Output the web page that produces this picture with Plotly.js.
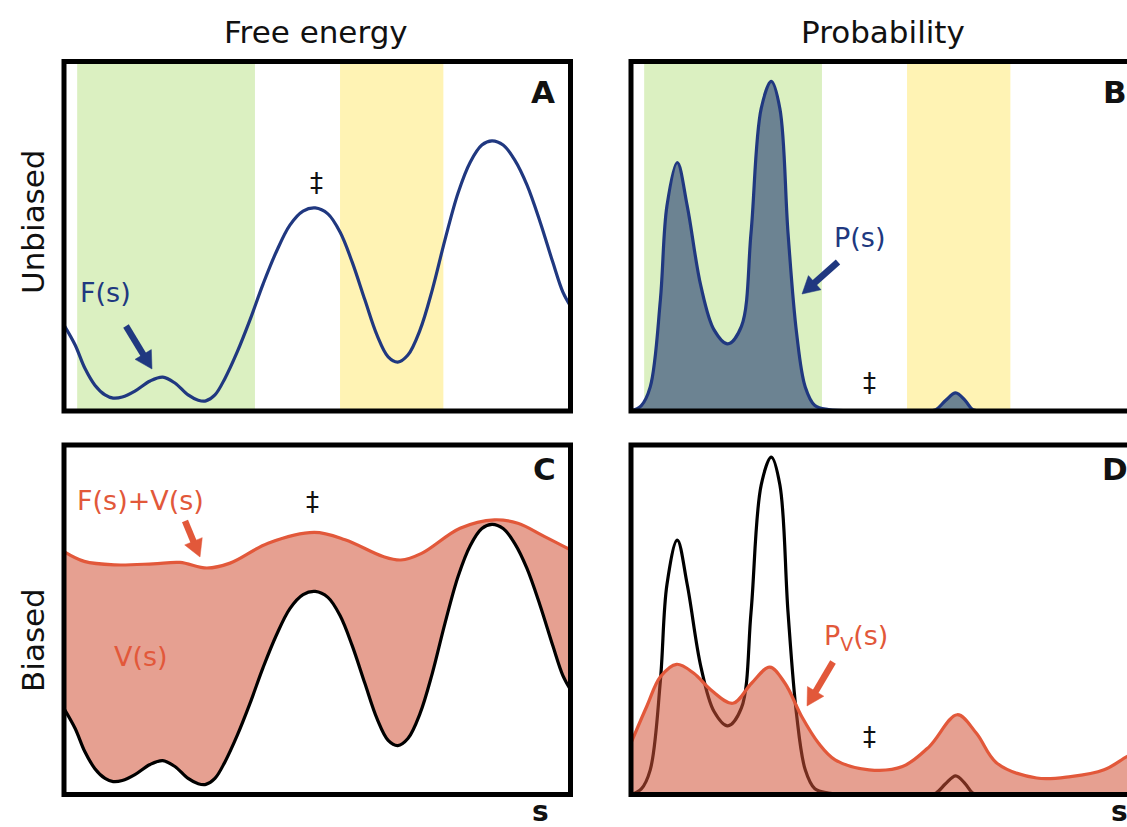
<!DOCTYPE html>
<html>
<head>
<meta charset="utf-8">
<script src="https://cdn.plot.ly/plotly-3.0.1.min.js"></script>
<style>
html,body{margin:0;padding:0;overflow:hidden;background:#fff;}
#chart{width:1145px;height:827px;}
</style>
</head>
<body>
<div id="chart"></div>
<script>
// ---- data (s in panel units 0..1, values as fraction of panel height) ----
const sF = [0, 0.022, 0.041, 0.061, 0.081, 0.097, 0.115, 0.140, 0.170, 0.195, 0.219, 0.245, 0.265, 0.280, 0.298, 0.318, 0.342, 0.367, 0.393, 0.419, 0.446, 0.472, 0.496, 0.521, 0.545, 0.569, 0.594, 0.618, 0.640, 0.659, 0.679, 0.703, 0.727, 0.752, 0.778, 0.802, 0.825, 0.845, 0.867, 0.890, 0.914, 0.940, 0.965, 0.985, 1.0];
const F  = [0.246, 0.189, 0.123, 0.074, 0.046, 0.037, 0.040, 0.057, 0.086, 0.097, 0.080, 0.046, 0.031, 0.029, 0.046, 0.094, 0.169, 0.260, 0.363, 0.455, 0.532, 0.572, 0.581, 0.564, 0.512, 0.426, 0.318, 0.217, 0.155, 0.140, 0.160, 0.232, 0.346, 0.489, 0.624, 0.712, 0.761, 0.773, 0.761, 0.718, 0.647, 0.541, 0.426, 0.340, 0.300];

const sFV = [0, 0.04, 0.1, 0.176, 0.229, 0.282, 0.328, 0.403, 0.494, 0.555, 0.63, 0.665, 0.706, 0.782, 0.85, 0.896, 0.949, 1.0];
const FV  = [0.695, 0.667, 0.657, 0.66, 0.664, 0.648, 0.662, 0.719, 0.75, 0.729, 0.681, 0.671, 0.69, 0.762, 0.786, 0.776, 0.738, 0.70];

const sP = [0, 0.02, 0.038, 0.058, 0.071, 0.0914, 0.111, 0.138, 0.164, 0.191, 0.218, 0.237, 0.257, 0.277, 0.294, 0.31, 0.327, 0.344, 0.363, 0.39, 0.45, 0.58, 0.602, 0.621, 0.641, 0.66, 0.675, 0.7, 0.85, 1.0];
const P  = [0, 0.015, 0.069, 0.318, 0.587, 0.711, 0.587, 0.357, 0.232, 0.192, 0.242, 0.51, 0.865, 0.943, 0.865, 0.51, 0.222, 0.069, 0.016, 0.004, 0, 0, 0.004, 0.03, 0.052, 0.03, 0.004, 0, 0, 0];

const sPv = [0, 0.031, 0.058, 0.09, 0.124, 0.158, 0.201, 0.238, 0.274, 0.304, 0.337, 0.37, 0.403, 0.47, 0.536, 0.589, 0.644, 0.682, 0.722, 0.801, 0.868, 0.934, 0.979, 1.0];
const Pv  = [0.144, 0.246, 0.329, 0.364, 0.339, 0.292, 0.255, 0.311, 0.356, 0.311, 0.218, 0.144, 0.097, 0.069, 0.078, 0.134, 0.223, 0.171, 0.088, 0.046, 0.05, 0.069, 0.106, 0.12];

const greenBand = [0.026, 0.377];
const yellowBand = [0.545, 0.749];

const colTitles = ["Free energy", "Probability"];
const rowTitles = ["Unbiased", "Biased"];
const panelLetters = ["A", "B", "C", "D"];

// ---- styles / layout ----
const W = 1145, H = 827;
const FONT = "DejaVu Sans, Open Sans, sans-serif";
const BLUE = "rgb(32,56,128)";
const ORANGE = "rgb(226,88,58)";
const FILLO = "rgba(209,82,55,0.55)";
const SLATE = "rgb(108,131,146)";
const GREEN = "rgb(219,240,193)";
const YELLOW = "rgb(255,243,180)";

const colX = [[64, 570.5], [631, 1137.5]];
const rowY = [[61.5, 411], [445, 794.5]];
const px2x = v => v / W;
const px2y = v => 1 - v / H;

function ax(col) { return {domain: [px2x(colX[col][0]), px2x(colX[col][1])], range: [0, 1], visible: false, fixedrange: true}; }
function ay(row, top) { return {domain: [px2y(rowY[row][1]), px2y(rowY[row][0])], range: [0, top], visible: false, fixedrange: true}; }

const spl = {shape: 'spline', smoothing: 1};
const LW = 3.2;

const data = [
  // A
  {x: sF, y: F, xaxis: 'x', yaxis: 'y', mode: 'lines', line: Object.assign({color: BLUE, width: LW}, spl)},
  // B
  {x: sP, y: P, xaxis: 'x2', yaxis: 'y2', mode: 'lines', fill: 'tozeroy', fillcolor: SLATE, line: Object.assign({color: BLUE, width: LW}, spl)},
  // C
  {x: sF, y: F, xaxis: 'x3', yaxis: 'y3', mode: 'lines', line: Object.assign({color: 'black', width: LW}, spl)},
  {x: sFV, y: FV, xaxis: 'x3', yaxis: 'y3', mode: 'lines', fill: 'tonexty', fillcolor: FILLO, line: Object.assign({color: ORANGE, width: LW}, spl)},
  // D
  {x: sP, y: P, xaxis: 'x4', yaxis: 'y4', mode: 'lines', line: Object.assign({color: 'black', width: LW}, spl)},
  {x: sPv, y: Pv, xaxis: 'x4', yaxis: 'y4', mode: 'lines', fill: 'tozeroy', fillcolor: FILLO, line: Object.assign({color: ORANGE, width: LW}, spl)}
];

const shapes = [];
[['x','y'], ['x2','y2']].forEach(([xr, yr]) => {
  shapes.push({type: 'rect', xref: xr, yref: yr + ' domain', x0: greenBand[0], x1: greenBand[1], y0: 0, y1: 1, fillcolor: GREEN, line: {width: 0}, layer: 'below'});
  shapes.push({type: 'rect', xref: xr, yref: yr + ' domain', x0: yellowBand[0], x1: yellowBand[1], y0: 0, y1: 1, fillcolor: YELLOW, line: {width: 0}, layer: 'below'});
});
[['x','y'], ['x2','y2'], ['x3','y3'], ['x4','y4']].forEach(([xr, yr]) => {
  shapes.push({type: 'rect', xref: xr + ' domain', yref: yr + ' domain', x0: 0, x1: 1, y0: 0, y1: 1, line: {color: 'black', width: 5}, layer: 'above'});
});

// arrows as shapes (shaft + triangular head), given in pixel positions
function addArrow(color, tx, ty, hx, hy) {
  const dx = hx - tx, dy = hy - ty, L = Math.hypot(dx, dy);
  const ux = dx / L, uy = dy / L, nx = -uy, ny = ux;
  const hl = 17, hw = 9.5;
  const bx = hx - ux * hl, by = hy - uy * hl;
  shapes.push({type: 'line', xref: 'paper', yref: 'paper', x0: px2x(tx), y0: px2y(ty), x1: px2x(bx + ux * 2), y1: px2y(by + uy * 2),
    line: {color: color, width: 6.5}, layer: 'above'});
  const p = [[hx, hy], [bx + nx * hw, by + ny * hw], [bx - nx * hw, by - ny * hw]];
  shapes.push({type: 'path', xref: 'paper', yref: 'paper',
    path: 'M' + p.map(q => px2x(q[0]) + ',' + px2y(q[1])).join(' L') + ' Z',
    fillcolor: color, line: {color: color, width: 0.5}, layer: 'above'});
}
addArrow(BLUE, 126, 326, 152, 369);
addArrow(BLUE, 838, 262, 802, 294);
addArrow(ORANGE, 185, 521, 200, 557);
addArrow(ORANGE, 833, 662, 807, 706);

function txt(text, x, y, size, color, extra) {
  return Object.assign({text: text, xref: 'paper', yref: 'paper', x: px2x(x), y: px2y(y), showarrow: false,
    xanchor: 'center', yanchor: 'middle', font: {family: FONT, size: size, color: color}}, extra || {});
}

const annotations = [
  txt(colTitles[0], 316, 32, 31, '#111'),
  txt(colTitles[1], 883, 32, 31, '#111'),
  txt(rowTitles[0], 33, 222, 31, '#111', {textangle: -90}),
  txt(rowTitles[1], 33, 640, 31, '#111', {textangle: -90}),
  txt('<b>' + panelLetters[0] + '</b>', 543, 92, 31, '#111'),
  txt('<b>' + panelLetters[1] + '</b>', 1115, 92, 31, '#111'),
  txt('<b>' + panelLetters[2] + '</b>', 544, 469, 31, '#111'),
  txt('<b>' + panelLetters[3] + '</b>', 1115, 469, 31, '#111'),
  txt('F(s)', 105, 293, 27, BLUE),
  txt('P(s)', 859, 237, 27, BLUE),
  txt('F(s)+V(s)', 140, 500, 27, ORANGE),
  txt('V(s)', 141, 656, 27, ORANGE),
  txt('P<sub>V</sub>(s)', 856, 637, 27, ORANGE),
  txt('‡', 316, 183, 26, '#111'),
  txt('‡', 869, 383, 26, '#111'),
  txt('‡', 312, 502, 26, '#111'),
  txt('‡', 869, 737, 26, '#111'),
  txt('<b>s</b>', 540, 811, 28, '#111'),
  txt('<b>s</b>', 1119, 811, 28, '#111')
];

const layout = {
  width: W, height: H, margin: {l: 0, r: 0, t: 0, b: 0},
  paper_bgcolor: 'white', plot_bgcolor: 'rgba(0,0,0,0)',
  showlegend: false, hovermode: false,
  xaxis: ax(0), yaxis: ay(0, 1),
  xaxis2: ax(1), yaxis2: ay(0, 1),
  xaxis3: ax(0), yaxis3: ay(1, 1),
  xaxis4: ax(1), yaxis4: ay(1, 0.977),
  shapes: shapes, annotations: annotations,
  font: {family: FONT}
};

Plotly.newPlot('chart', data, layout, {staticPlot: true, displayModeBar: false});
</script>
</body>
</html>
